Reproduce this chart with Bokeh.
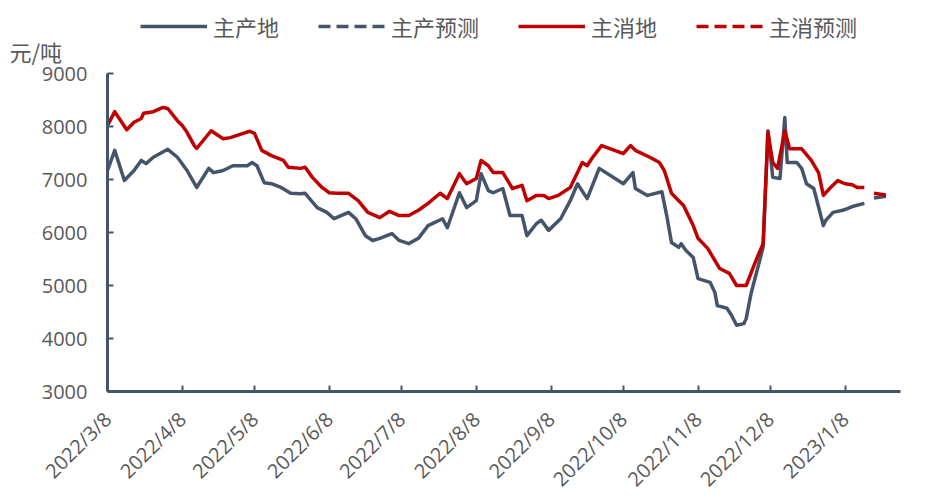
import pandas as pd
from math import pi
from bokeh.plotting import figure
from bokeh.models import Range1d, FixedTicker, Legend, LegendItem, Label, ColumnDataSource
from bokeh.embed import file_html
from bokeh.resources import INLINE

# ---------------- data ----------------
prod_dates = ["2022-03-08", "2022-03-11", "2022-03-15", "2022-03-19", "2022-03-22", "2022-03-24",
              "2022-03-27", "2022-04-02", "2022-04-06", "2022-04-10", "2022-04-14", "2022-04-19",
              "2022-04-21", "2022-04-25", "2022-04-29", "2022-05-05", "2022-05-07", "2022-05-09",
              "2022-05-12", "2022-05-15", "2022-05-19", "2022-05-23", "2022-05-27", "2022-05-29",
              "2022-06-03", "2022-06-07", "2022-06-10", "2022-06-16", "2022-06-19", "2022-06-23",
              "2022-06-26", "2022-06-29", "2022-07-04", "2022-07-07", "2022-07-11", "2022-07-15",
              "2022-07-19", "2022-07-25", "2022-07-27", "2022-08-01", "2022-08-04", "2022-08-08",
              "2022-08-10", "2022-08-13", "2022-08-15", "2022-08-19", "2022-08-22", "2022-08-27",
              "2022-08-29", "2022-09-02", "2022-09-04", "2022-09-07", "2022-09-12", "2022-09-16",
              "2022-09-19", "2022-09-23", "2022-09-28", "2022-10-08", "2022-10-12", "2022-10-13",
              "2022-10-18", "2022-10-24", "2022-10-26", "2022-10-28", "2022-10-31", "2022-11-01",
              "2022-11-03", "2022-11-06", "2022-11-08", "2022-11-13", "2022-11-15", "2022-11-16",
              "2022-11-20", "2022-11-22", "2022-11-24", "2022-11-27", "2022-11-28", "2022-11-30",
              "2022-12-05", "2022-12-07", "2022-12-09", "2022-12-12", "2022-12-14", "2022-12-15",
              "2022-12-19", "2022-12-21", "2022-12-23", "2022-12-26", "2022-12-27", "2022-12-30",
              "2022-12-31", "2023-01-03", "2023-01-07", "2023-01-09", "2023-01-11", "2023-01-16"]
prod_vals = [7170, 7550, 6980, 7170, 7360, 7300,
             7420, 7570, 7420, 7170, 6850, 7210,
             7130, 7170, 7260, 7260, 7320, 7260,
             6940, 6920, 6850, 6740, 6730, 6740,
             6470, 6380, 6260, 6380, 6260, 5940,
             5850, 5890, 5980, 5850, 5790, 5890,
             6130, 6260, 6090, 6750, 6470, 6600,
             7110, 6790, 6750, 6830, 6320, 6320,
             5940, 6170, 6230, 6040, 6260, 6600,
             6920, 6640, 7210, 6920, 7130, 6830,
             6700, 6770, 6320, 5810, 5720, 5790,
             5660, 5530, 5130, 5060, 4870, 4620,
             4570, 4430, 4250, 4280, 4380, 4850,
             5720, 7920, 7040, 7020, 8170, 7320,
             7320, 7210, 6920, 6830, 6660, 6130,
             6230, 6380, 6420, 6450, 6490, 6550]

cons_dates = ["2022-03-08", "2022-03-11", "2022-03-16", "2022-03-19", "2022-03-22", "2022-03-23",
              "2022-03-27", "2022-03-31", "2022-04-02", "2022-04-06", "2022-04-08", "2022-04-10",
              "2022-04-13", "2022-04-14", "2022-04-20", "2022-04-25", "2022-04-28", "2022-05-02",
              "2022-05-06", "2022-05-08", "2022-05-11", "2022-05-15", "2022-05-20", "2022-05-22",
              "2022-05-27", "2022-05-29", "2022-06-01", "2022-06-05", "2022-06-08", "2022-06-11",
              "2022-06-16", "2022-06-20", "2022-06-24", "2022-06-29", "2022-07-03", "2022-07-07",
              "2022-07-11", "2022-07-15", "2022-07-19", "2022-07-24", "2022-07-27", "2022-08-01",
              "2022-08-04", "2022-08-08", "2022-08-10", "2022-08-13", "2022-08-15", "2022-08-19",
              "2022-08-23", "2022-08-27", "2022-08-29", "2022-09-02", "2022-09-05", "2022-09-07",
              "2022-09-11", "2022-09-16", "2022-09-21", "2022-09-23", "2022-09-25", "2022-09-29",
              "2022-10-08", "2022-10-11", "2022-10-13", "2022-10-19", "2022-10-23", "2022-10-25",
              "2022-10-28", "2022-10-31", "2022-11-02", "2022-11-06", "2022-11-08", "2022-11-12",
              "2022-11-17", "2022-11-21", "2022-11-24", "2022-11-28", "2022-12-02", "2022-12-05",
              "2022-12-07", "2022-12-09", "2022-12-11", "2022-12-14", "2022-12-16", "2022-12-21",
              "2022-12-25", "2022-12-28", "2022-12-30", "2023-01-02", "2023-01-05", "2023-01-08",
              "2023-01-11", "2023-01-13", "2023-01-16"]
cons_vals = [8020, 8280, 7940, 8080, 8150, 8250,
             8280, 8360, 8340, 8110, 8020, 7890,
             7640, 7585, 7920, 7770, 7790, 7850,
             7910, 7870, 7550, 7450, 7360, 7230,
             7210, 7230, 7040, 6850, 6750, 6740,
             6740, 6600, 6380, 6280, 6400, 6320,
             6320, 6420, 6550, 6740, 6640, 7110,
             6920, 7020, 7360, 7260, 7130, 7130,
             6830, 6890, 6600, 6700, 6700, 6640,
             6700, 6850, 7320, 7260, 7400, 7640,
             7490, 7640, 7550, 7420, 7320, 7170,
             6740, 6600, 6510, 6130, 5890, 5700,
             5320, 5230, 5000, 5000, 5470, 5790,
             7890, 7320, 7210, 7920, 7580, 7580,
             7360, 7130, 6700, 6850, 6980, 6920,
             6900, 6850, 6850]

prod_fc_dates = ["2023-01-20", "2023-01-26"]
prod_fc_vals = [6650, 6690]
cons_fc_dates = ["2023-01-20", "2023-01-26"]
cons_fc_vals = [6740, 6700]

tick_labels = ["2022/3/8", "2022/4/8", "2022/5/8", "2022/6/8", "2022/7/8", "2022/8/8",
               "2022/9/8", "2022/10/8", "2022/11/8", "2022/12/8", "2023/1/8"]
y_ticks = [3000, 4000, 5000, 6000, 7000, 8000, 9000]
series_names = ["主产地", "主产预测", "主消地", "主消预测"]
unit_label = "元/吨"

# ---------------- layout / styling ----------------
BLUE = "#44546A"
RED = "#C00000"
GREY = "#595959"
CJK = "Noto Sans CJK SC"
NUM = "Open Sans"

W, H = 924, 500
AX_L, AX_R, AX_T, AX_B = 107, 900, 73, 391     # axis box in canvas pixels
x0, x1 = pd.Timestamp("2022-03-08"), pd.Timestamp("2023-01-31")
y0, y1 = 3000, 9000
day_px = (AX_R - AX_L) / ((x1 - x0) / pd.Timedelta(days=1))
val_px = (AX_B - AX_T) / (y1 - y0)
xr = Range1d(x0 - pd.Timedelta(days=AX_L / day_px), x1 + pd.Timedelta(days=(W - AX_R) / day_px))
yr = Range1d(y0 - (H - AX_B) / val_px, y1 + AX_T / val_px)

p = figure(width=W, height=H, x_axis_type="datetime", x_range=xr, y_range=yr, title=None,
           output_backend="svg", toolbar_location=None,
           min_border_left=0, min_border_right=0, min_border_top=0, min_border_bottom=0)
p.outline_line_color = None
p.xgrid.grid_line_color = None
p.ygrid.grid_line_color = None
p.background_fill_color = "white"
p.border_fill_color = "white"

src_p = ColumnDataSource(dict(x=pd.to_datetime(prod_dates), y=prod_vals))
src_c = ColumnDataSource(dict(x=pd.to_datetime(cons_dates), y=cons_vals))
src_pf = ColumnDataSource(dict(x=pd.to_datetime(prod_fc_dates), y=prod_fc_vals))
src_cf = ColumnDataSource(dict(x=pd.to_datetime(cons_fc_dates), y=cons_fc_vals))

r1 = p.line("x", "y", source=src_p, line_color=BLUE, line_width=3.5, line_join="round")
r2 = p.line("x", "y", source=src_pf, line_color=BLUE, line_width=3.5, line_dash="12 6")
r3 = p.line("x", "y", source=src_c, line_color=RED, line_width=3.5, line_join="round")
r4 = p.line("x", "y", source=src_cf, line_color=RED, line_width=3.5, line_dash="12 6")

legend = Legend(items=[LegendItem(label=n, renderers=[r]) for n, r in zip(series_names, [r1, r2, r3, r4])],
                orientation="horizontal", location=(140, H - 42),
                glyph_width=67, glyph_height=20, label_standoff=6, spacing=39,
                padding=0, margin=0, border_line_color=None, background_fill_alpha=0,
                label_text_font=CJK, label_text_font_size="22px", label_text_color=GREY)
p.add_layout(legend)

p.add_layout(Label(x=x0 - pd.Timedelta(days=(AX_L - 9) / day_px), y=y1 + (AX_T - 50) / val_px,
                   text=unit_label, text_font=CJK, text_font_size="22px", text_color=GREY,
                   text_baseline="middle", text_align="left"))

# axes
tick_ts = pd.to_datetime(tick_labels, format="%Y/%m/%d")
tick_ms = [int(t.value // 10**6) for t in tick_ts]
p.xaxis.ticker = FixedTicker(ticks=tick_ms)
p.xaxis.major_label_overrides = {ms: lab for ms, lab in zip(tick_ms, tick_labels)}
p.xaxis.major_label_orientation = pi / 4
p.xaxis.bounds = (x0, x1)
p.xaxis.fixed_location = y0
p.yaxis.ticker = FixedTicker(ticks=y_ticks)
p.yaxis.bounds = (y0, y1)
p.yaxis.fixed_location = int(x0.value // 10**6)

for ax in (p.xaxis[0], p.yaxis[0]):
    ax.axis_line_color = BLUE
    ax.axis_line_width = 3
    ax.major_tick_line_color = BLUE
    ax.major_tick_line_width = 2
    ax.major_tick_in = 6
    ax.major_tick_out = 0
    ax.minor_tick_line_color = None
    ax.major_label_text_font = NUM
    ax.major_label_text_font_size = "20px"
    ax.major_label_text_color = GREY
p.yaxis.major_label_standoff = 20
p.xaxis.major_label_standoff = 24

open("out.html", "w").write(file_html(p, INLINE))
